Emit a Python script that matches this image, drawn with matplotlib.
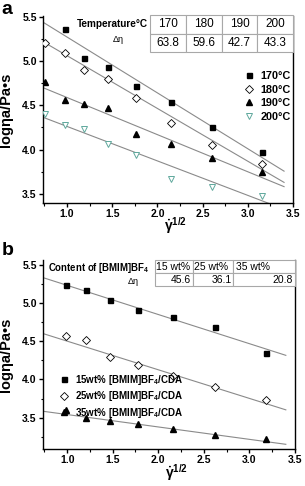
import numpy as np
import matplotlib
matplotlib.use("Agg")
import matplotlib.pyplot as plt
from matplotlib.table import Table
from matplotlib.ticker import MultipleLocator

plt.rcParams['font.family'] = ['Liberation Sans', 'DejaVu Sans']
plt.rcParams['mathtext.fontset'] = 'custom'
plt.rcParams['mathtext.rm'] = 'Liberation Sans'
plt.rcParams['mathtext.it'] = 'Liberation Sans:bold'
plt.rcParams['mathtext.bf'] = 'Liberation Sans:bold'
plt.rcParams['mathtext.default'] = 'bf'

# ---- panel a data ----
xa = [0.76, 0.98, 1.19, 1.45, 1.76, 2.15, 2.60, 3.16]
y170 = [5.36, 5.04, 4.93, 4.72, 4.54, 4.25, 3.97]          # starts at xa[1]
y180 = [5.21, 5.09, 4.90, 4.80, 4.58, 4.30, 4.05, 3.84]
y190 = [4.76, 4.56, 4.51, 4.47, 4.18, 4.06, 3.91, 3.75]
y200 = [4.40, 4.28, 4.23, 4.06, 3.94, 3.67, 3.58, 3.48]
temp_labels = ['170\u00b0C', '180\u00b0C', '190\u00b0C', '200\u00b0C']
fit_a_slope = [-0.632, -0.597, -0.420, -0.390]
fit_a_icpt = [5.905, 5.659, 5.009, 4.652]
tab_a_head = ['170', '180', '190', '200']
tab_a_vals = ['63.8', '59.6', '42.7', '43.3']

# ---- panel b data ----
xb = [0.99, 1.21, 1.47, 1.78, 2.16, 2.62, 3.18]
y15 = [5.24, 5.17, 5.04, 4.91, 4.81, 4.68, 4.34]
y25 = [4.565, 4.51, 4.29, 4.19, 4.04, 3.90, 3.73]
y35 = [3.60, 3.50, 3.46, 3.42, 3.35, 3.28, 3.22]
wt_labels = ['15wt% [BMIM]BF$_4$/CDA', '25wt% [BMIM]BF$_4$/CDA', '35wt% [BMIM]BF$_4$/CDA']
fit_b_slope = [-0.381, -0.374, -0.162]
fit_b_icpt = [5.610, 4.874, 3.703]
tab_b_head = ['15 wt%', '25 wt%', '35 wt%']
tab_b_vals = ['45.6', '36.1', '20.8']

teal = '#5fa89c'
gray = '#8a8a8a'


def style_axes(ax, ylo, yhi):
    ax.set_xlim(0.735, 3.5)
    ax.set_ylim(ylo, yhi)
    ax.xaxis.set_major_locator(MultipleLocator(0.5))
    ax.xaxis.set_minor_locator(MultipleLocator(0.25))
    ax.yaxis.set_major_locator(MultipleLocator(0.5))
    ax.yaxis.set_minor_locator(MultipleLocator(0.25))
    ax.tick_params(which='major', direction='out', length=3, width=1, labelsize=7.5, pad=1.5)
    ax.tick_params(which='minor', direction='out', length=1.8, width=0.8)
    for lab in ax.get_xticklabels() + ax.get_yticklabels():
        lab.set_fontweight('bold')
    ax.spines['top'].set_visible(False)
    for s in ['left', 'bottom', 'right']:
        ax.spines[s].set_linewidth(1.0)
    ax.set_ylabel('log\u03b7a/Pa\u2022s', fontsize=10.5, fontweight='bold')
    ax.yaxis.set_label_coords(-0.12, 0.5)
    ax.set_xlabel(r'$\dot{\gamma}^{1/2}$', fontsize=10)


def add_table(ax, head, vals, bbox, widths, locs, fs):
    tbl = Table(ax, bbox=bbox)
    h = 0.5
    for c, (t, v) in enumerate(zip(head, vals)):
        for r, (txt, loc) in enumerate([(t, locs[0]), (v, locs[1])]):
            cell = tbl.add_cell(r, c, width=widths[c], height=h, text=txt, loc=loc,
                                edgecolor='#a8a8a8', facecolor='white')
            cell.set_linewidth(0.8)
            cell.get_text().set_fontsize(fs)
            cell.PAD = 0.04
    tbl.auto_set_font_size(False)
    tbl.set_zorder(5)
    tbl.set_clip_on(False)
    ax.add_table(tbl)


fig = plt.figure(figsize=(3.05, 4.86), dpi=100)

# ---------------- panel a ----------------
ax1 = fig.add_axes([0.141, 0.583, 0.820, 0.384])
xline = np.array([0.735, 3.4])
for k in range(4):
    ax1.plot(xline, fit_a_icpt[k] + fit_a_slope[k] * xline, color=gray, lw=0.8, zorder=1)
ax1.plot(xa[1:], y170, 's', color='black', ms=3.6, label=temp_labels[0], zorder=3)
ax1.plot(xa, y180, 'D', mfc='white', mec='black', mew=0.6, ms=3.6, label=temp_labels[1], zorder=3)
ax1.plot(xa, y190, '^', color='black', ms=4.2, label=temp_labels[2], zorder=3)
ax1.plot(xa, y200, 'v', mfc='white', mec=teal, mew=0.7, ms=4.5, label=temp_labels[3], zorder=3)
style_axes(ax1, 3.40, 5.51)
ax1.xaxis.set_label_coords(0.53, -0.065)
leg = ax1.legend(loc='upper right', bbox_to_anchor=(1.02, 0.745), frameon=False,
                 prop={'weight': 'bold', 'size': 7.8}, handlelength=1.0,
                 handletextpad=0.5, labelspacing=0.32, borderpad=0.2)
add_table(ax1, tab_a_head, tab_a_vals, [0.428, 0.807, 0.572, 0.198],
          [0.25, 0.25, 0.25, 0.25], ('center', 'center'), 8.5)
ax1.text(0.42, 0.955, 'Temperature\u00b0C', transform=ax1.transAxes, ha='right', va='center',
         fontsize=7.2, fontweight='bold', zorder=6)
ax1.text(0.30, 0.875, '\u0394\u03b7', transform=ax1.transAxes, ha='center', va='center',
         fontsize=6.5, zorder=6)
fig.text(0.004, 0.997, 'a', fontsize=14, fontweight='bold', va='top', ha='left')

# ---------------- panel b ----------------
ax2 = fig.add_axes([0.141, 0.076, 0.826, 0.389])
xline = np.array([0.75, 3.4])
for k in range(3):
    ax2.plot(xline, fit_b_icpt[k] + fit_b_slope[k] * xline, color=gray, lw=0.8, zorder=1)
ax2.plot(xb, y15, 's', color='black', ms=3.6, label=wt_labels[0], zorder=3)
ax2.plot(xb, y25, 'D', mfc='white', mec='black', mew=0.6, ms=3.6, label=wt_labels[1], zorder=3)
ax2.plot(xb[:1], y35[:1], '^', color='black', ms=4.2, zorder=3)
ax2.plot(xb[1:], y35[1:], '^', color='black', ms=4.2, label=wt_labels[2], zorder=3)
style_axes(ax2, 3.09, 5.56)
ax2.xaxis.set_label_coords(0.53, -0.07)
ax2.legend(loc='upper left', bbox_to_anchor=(0.04, 0.44), frameon=False,
           prop={'weight': 'bold', 'size': 7}, handlelength=0.9,
           handletextpad=0.7, labelspacing=0.25, borderpad=0.2)
add_table(ax2, tab_b_head, tab_b_vals, [0.444, 0.862, 0.556, 0.138],
          [0.27, 0.29, 0.44], ('left', 'right'), 7.5)
ax2.text(0.02, 0.958, 'Content of [BMIM]BF$_4$', transform=ax2.transAxes, ha='left',
         va='center', fontsize=6.9, fontweight='bold', zorder=6)
ax2.text(0.357, 0.884, '\u0394\u03b7', transform=ax2.transAxes, ha='center', va='center',
         fontsize=6.5, zorder=6)
fig.text(0.004, 0.503, 'b', fontsize=14, fontweight='bold', va='top', ha='left')

fig.savefig('out.png', dpi=100)
